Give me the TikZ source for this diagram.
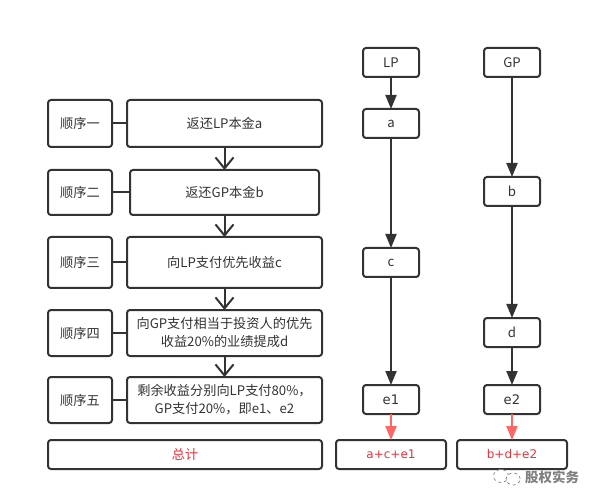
\documentclass[tikz,border=0pt]{standalone}
\usepackage{fontspec}
\setmainfont{Noto Sans CJK SC}
\newfontfamily\widelatin{DejaVu Sans}
\usetikzlibrary{arrows.meta,positioning,shapes.geometric}
\definecolor{inkdark}{HTML}{333333}
\definecolor{sumred}{HTML}{E8323C}
\definecolor{tipred}{HTML}{FF6666}

\begin{document}
\begin{tikzpicture}[x=1pt,y=1pt,
  box/.style={draw=inkdark, line width=2pt, rounded corners=3pt, outer sep=0pt, inner sep=0pt, align=center, text=inkdark, font=\fontsize{13.2}{18}\selectfont},
  stage/.style={box, minimum width=64pt, minimum height=46pt},
  rule/.style={box, minimum width=195pt, minimum height=46pt},
  party/.style={box, minimum width=56pt, minimum height=29pt},
  total/.style={box, minimum width=110pt, minimum height=29pt, text=sumred, font=\fontsize{12}{17}\selectfont\widelatin},
  flow/.style={draw=inkdark, line width=2pt, -{Straight Barb[length=11pt,width=18pt,line width=2pt]}},
  pay/.style={draw=inkdark, line width=2pt, -{Triangle[length=14pt,width=11pt]}},
  sumup/.style={draw=tipred, line width=2pt, -{Triangle[length=14pt,width=11pt]}}]
  \useasboundingbox (0,0) rectangle (599,-502);
  % waterfall
  \node[stage, minimum height=47pt] (s1) at (80,-123.5) {顺序一};
  \node[rule, minimum height=47pt, right=15pt of s1] (m1) {返还LP本金a};
  \node[rule, minimum width=189pt, minimum height=45pt, below=23pt of m1] (m2) {返还GP本金b};
  \node[rule, minimum height=51pt, below=22pt of m2] (m3) {向LP支付优先收益c};
  \node[rule, below=22pt of m3] (m4) {向GP支付相当于投资人的优先\\收益20\%的业绩提成d};
  \node[rule, below=21pt of m4] (m5) {剩余收益分别向LP支付80\%，\\GP支付20\%，即e1、e2};
  \node[stage, minimum height=45pt, left=18pt of m2] (s2) {顺序二};
  \node[stage, minimum height=51pt, left=15pt of m3] (s3) {顺序三};
  \node[stage, left=15pt of m4] (s4) {顺序四};
  \node[stage, left=15pt of m5] (s5) {顺序五};
  \node[box, minimum width=274pt, minimum height=29pt, text=sumred, below=17pt of s5.south west, anchor=north west] (all) {总计};
  % LP and GP columns
  \node[party] (lp) at (391,-62.5) {LP};
  \node[party, below=32pt of lp] (a) {a};
  \node[party, below=110pt of a] (c) {c};
  \node[party, below=108pt of c] (e1) {\widelatin e1};
  \node[total, below=26pt of e1] (lpsum) {a+c+e1};
  \node[party, right=65pt of lp] (gp) {GP};
  \node[party, below=100pt of gp] (b) {b};
  \node[party, below=112pt of b] (d) {d};
  \node[party, below=38pt of d] (e2) {\widelatin e2};
  \node[total, below=26pt of e2] (gpsum) {b+d+e2};
  \foreach \i in {1,...,5}
    \draw[draw=inkdark, line width=2pt] (s\i) -- (m\i);
  \draw[flow] (m1) -- (m2);
  \draw[flow] (m2) -- (m3);
  \draw[flow] (m3) -- (m4);
  \draw[flow] (m4) -- (m5);
  \draw[pay] (lp) -- (a);
  \draw[pay] (a) -- (c);
  \draw[pay] (c) -- (e1);
  \draw[pay] (gp) -- (b);
  \draw[pay] (b) -- (d);
  \draw[pay] (d) -- (e2);
  \draw[sumup] (e1) -- (lpsum);
  \draw[sumup] (e2) -- (gpsum);
  % watermark
  \node[text=gray, font=\fontsize{13.5}{14}\selectfont\bfseries, inner sep=0pt] (mark) at (552,-477) {股权实务};
  \node[draw=gray, dashed, ellipse, line width=.7pt, minimum width=15pt, minimum height=13pt, inner sep=0pt, fill=white, left=16pt of mark, yshift=1pt] (bubble) {};
  \node[draw=gray, dashed, ellipse, line width=.7pt, minimum width=14pt, minimum height=12pt, inner sep=0pt, fill=white, right=-3pt of bubble, yshift=-3pt] (bubbletwo) {};
\end{tikzpicture}
\end{document}
